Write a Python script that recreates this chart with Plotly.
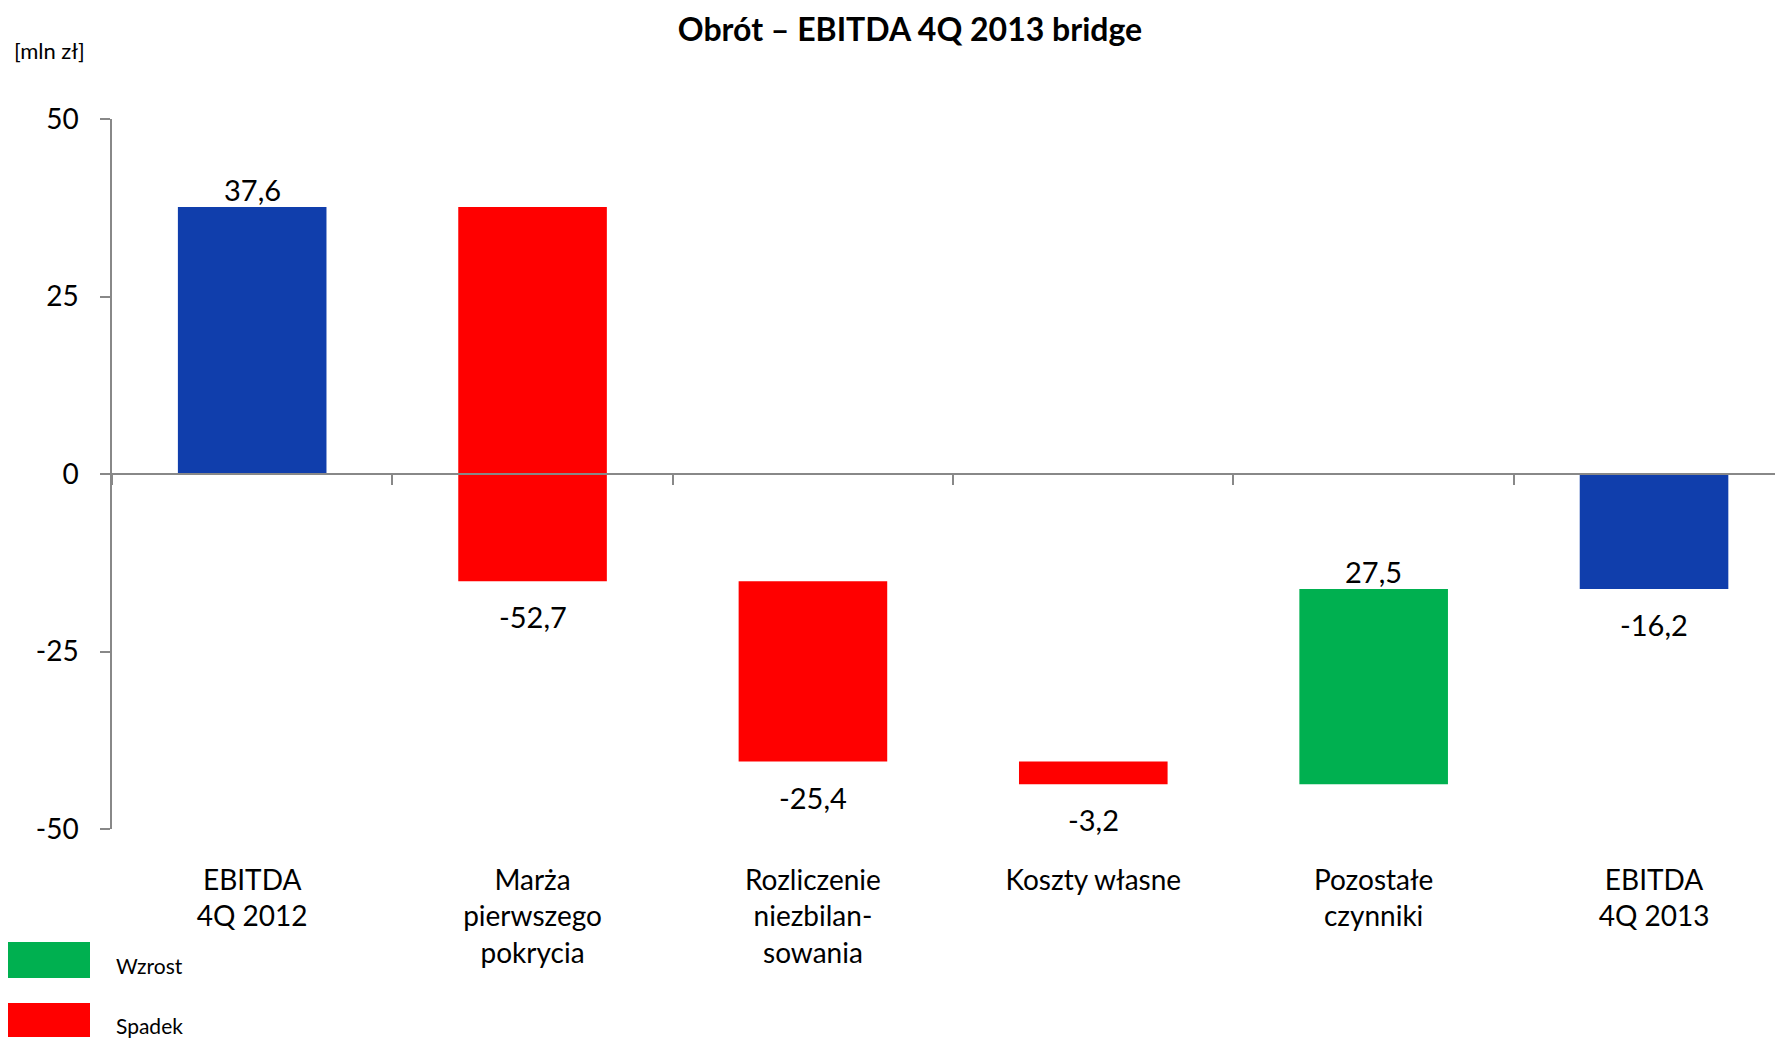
import plotly.graph_objects as go

# chart data
categories = ['EBITDA<br>4Q 2012', 'Marża<br>pierwszego<br>pokrycia', 'Rozliczenie<br>niezbilan-<br>sowania',
              'Koszty własne', 'Pozostałe<br>czynniki', 'EBITDA<br>4Q 2013']
values = [37.6, -52.7, -25.4, -3.2, 27.5, -16.2]
kinds = ['total', 'delta', 'delta', 'delta', 'delta', 'total']
value_labels = ['37,6', '-52,7', '-25,4', '-3,2', '27,5', '-16,2']
y_ticks = [-50, -25, 0, 25, 50]
y_tick_text = ['-50', '-25', '0', '25', '50']
legend_names = ['Wzrost', 'Spadek']

BLUE = '#103EAC'
RED = '#FF0000'
GREEN = '#00B050'
AXIS_GREY = '#888888'
FONT = 'Lato'

# page has an 8px body margin, so the figure is drawn 8px in from the top-left corner
OFF = 8
W, H = 1783 - OFF, 1038 - OFF
ML, MR, MT, MB = 112 - OFF, 0, 119 - OFF, 1038 - 829
PW, PH = W - ML - MR, H - MT - MB


def px_x(px):
    return (px - OFF - ML) / PW


def px_y(py):
    return (H - MB - (py - OFF)) / PH


# waterfall bases
bases, colors = [], []
running = 0.0
for v, k in zip(values, kinds):
    if k == 'total':
        bases.append(0)
        running = v
        colors.append(BLUE)
    else:
        bases.append(running)
        running += v
        colors.append(GREEN if v > 0 else RED)

fig = go.Figure()
fig.add_trace(go.Bar(x=categories, y=values, base=bases, marker=dict(color=colors, line=dict(width=0)),
                     width=0.53, showlegend=False, hoverinfo='skip'))
# dummy trace so the zero-line axis gets drawn
fig.add_trace(go.Scatter(x=categories, y=[None] * len(categories), xaxis='x2', yaxis='y',
                         showlegend=False, hoverinfo='skip'))

# value labels
for i, (v, b, lab) in enumerate(zip(values, bases, value_labels)):
    top, bottom = max(b, b + v), min(b, b + v)
    if v > 0:
        fig.add_annotation(x=categories[i], y=top, text=lab, showarrow=False, yanchor='bottom', yshift=-2,
                           font=dict(size=29, color='black', family=FONT))
    else:
        fig.add_annotation(x=categories[i], y=bottom, text=lab, showarrow=False, yanchor='top', yshift=-16,
                           font=dict(size=29, color='black', family=FONT))

fig.add_annotation(xref='paper', yref='paper', x=px_x(12), y=px_y(51), xanchor='left', yanchor='middle',
                   text='[mln zł]', showarrow=False, font=dict(size=22, color='black', family=FONT))

# legend boxes
legend_colors = [GREEN, RED]
legend_rows = [(942, 978), (1003, 1037)]
for name, col, (y0, y1) in zip(legend_names, legend_colors, legend_rows):
    fig.add_shape(type='rect', xref='paper', yref='paper', x0=px_x(6), x1=px_x(90), y0=px_y(y0), y1=px_y(y1),
                  fillcolor=col, line=dict(width=0))
    fig.add_annotation(xref='paper', yref='paper', x=px_x(114), y=px_y((y0 + y1) / 2 + 5), xanchor='left',
                       yanchor='middle', text=name, showarrow=False,
                       font=dict(size=21, color='black', family=FONT))

fig.update_layout(
    width=W, height=H,
    margin=dict(l=ML, r=MR, t=MT, b=MB, pad=0),
    plot_bgcolor='white', paper_bgcolor='white',
    title=dict(text='<b>Obrót – EBITDA 4Q 2013 bridge</b>', x=(910 - OFF) / W, xanchor='center',
               y=1 - (30 - OFF) / H, yanchor='middle', font=dict(size=32, color='black', family=FONT)),
    font=dict(family=FONT, color='black'),
    xaxis=dict(range=[-0.5, 5.46], showline=False, showgrid=False, zeroline=False, ticks='',
               tickfont=dict(size=28, family=FONT, color='black'), ticklabelstandoff=32),
    xaxis2=dict(overlaying='x', matches='x', anchor='free', position=0.5, showline=True, linecolor=AXIS_GREY,
                linewidth=2, ticks='outside', tickson='boundaries', ticklen=10, tickcolor=AXIS_GREY,
                tickwidth=1.5, showticklabels=False, showgrid=False, zeroline=False),
    yaxis=dict(range=[-50, 50], tickvals=y_ticks, ticktext=y_tick_text, showline=True, linecolor=AXIS_GREY,
               linewidth=1.5, ticks='outside', ticklen=10, tickcolor=AXIS_GREY, tickwidth=1.5, showgrid=False,
               zeroline=False, tickfont=dict(size=28, family=FONT, color='black'), ticklabelstandoff=16),
    bargap=0.47,
)

fig.write_html('out.html')
